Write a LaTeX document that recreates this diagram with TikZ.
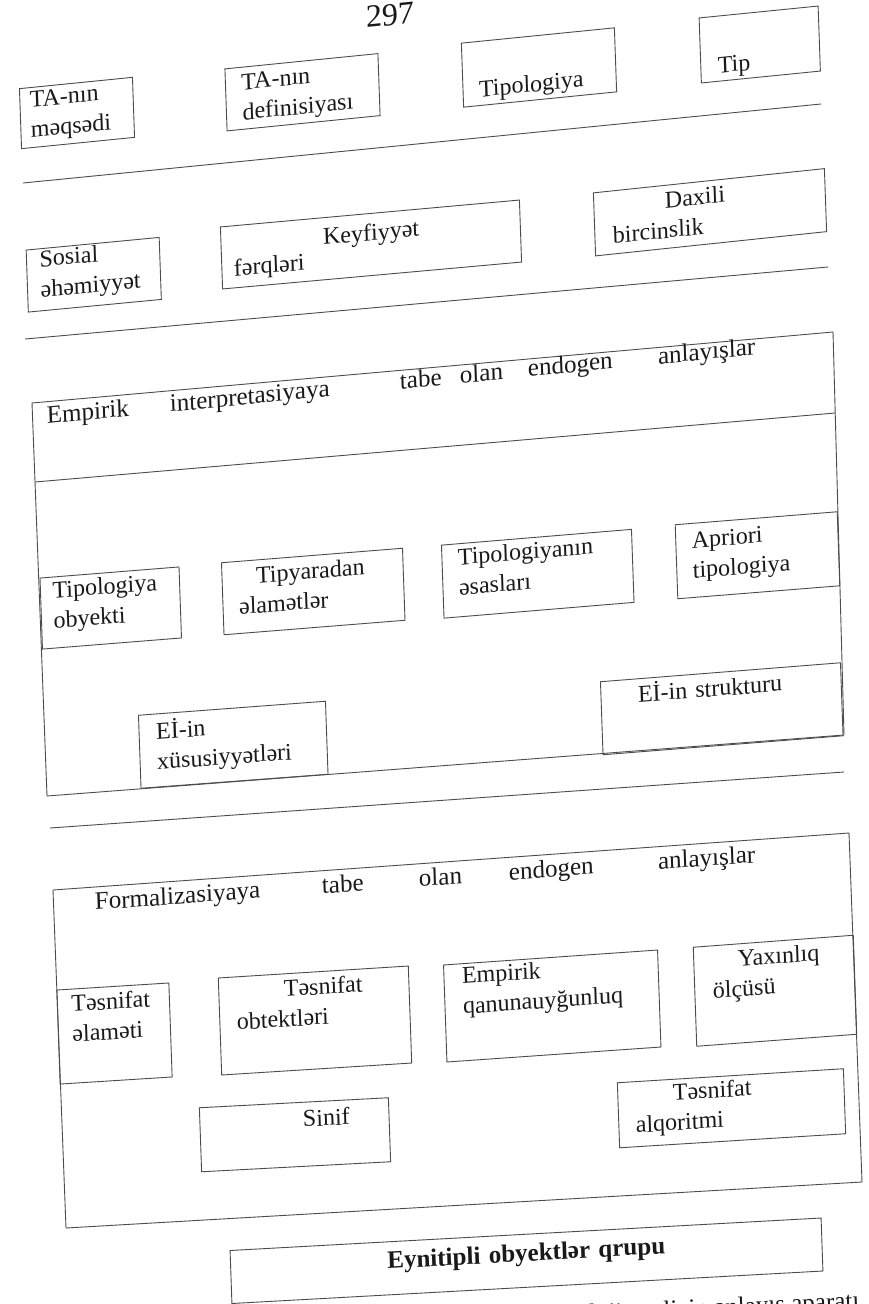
\documentclass[tikz,border=0pt]{standalone}
\usepackage{fontspec}
\setmainfont{Liberation Serif}
\newcommand{\myTop}[1]{\rule{0pt}{#1pt}}
\newcommand{\myBot}[1]{\rule[-#1pt]{0pt}{#1pt}}
\begin{document}
\begin{tikzpicture}[x=1pt,y=-1pt,
  sk/.style={cm={1,#1,-0.035,1,(0,0)}},
  bx/.style={draw=black!70, line width=0.9pt, inner sep=0pt, outer sep=0pt,
    align=left, font=\fontsize{24}{30}\selectfont, text=black!90},
  ln/.style={draw=black!70, line width=0.9pt},
  wd/.style={inner sep=0pt, anchor=base west, font=\fontsize{25}{28}\selectfont, text=black!90}]
\path[use as bounding box] (0,0) rectangle (868,1304);
\fill[white] (0,0) rectangle (868,1304);
\clip (0,0) rectangle (868,1304);

% page number
\node[inner sep=0pt, sk=0.1, font=\fontsize{32}{36}\selectfont, text=black!90] (pg) at (390,15) {297};

% row 1
\node[bx, sk=0.10, minimum width=113pt, minimum height=60pt, text width=93pt] (b1) at (77,113) {\myTop{18}TA-nın\\məqsədi\myBot{8}};
\node[bx, sk=0.10, minimum width=153pt, minimum height=62pt, text width=121pt] (b2) at (302.5,92.25) {\myTop{19.4}TA-nın\\definisiyası\myBot{6}};
\node[bx, sk=0.10, minimum width=153pt, minimum height=64pt, text width=121pt] (b3) at (539,67.5) {\myTop{53.2}Tipologiya\myBot{6}};
\node[bx, sk=0.10, minimum width=119pt, minimum height=65pt, text width=85pt] (b4) at (759.75,44.5) {\myTop{55}Tip\myBot{6}};

\coordinate (l1a) at (23,183);
\coordinate (l1b) at (821,104);
\draw[ln] (l1a) -- (l1b);

% row 2
\node[bx, sk=0.095, minimum width=133pt, minimum height=62pt, text width=107pt] (c1) at (93.75,274.75) {\myTop{18}Sosial\\əhəmiyyət\myBot{13.2}};
\node[bx, sk=0.09, minimum width=299pt, minimum height=62pt, text width=275pt, font=\fontsize{24}{22}\selectfont] (c2) at (371,244.5) {\myTop{21.4}\hspace*{90pt}Keyfiyyət\\fərqləri\myBot{6}};
\node[bx, sk=0.105, minimum width=231pt, minimum height=63pt, text width=195pt] (c3) at (710,212.25) {\myTop{18.4}\hspace*{53pt}Daxili\\bircinslik\myBot{6}};

\coordinate (l2a) at (25,339);
\coordinate (l2b) at (828,267);
\draw[ln] (l2a) -- (l2b);

% frame 1
\coordinate (f1a) at (32,403);
\coordinate (f1b) at (833,332);
\coordinate (f1c) at (844,735);
\coordinate (f1d) at (47,796);
\draw[ln] (f1a) -- (f1b) -- (f1c) -- (f1d) -- cycle;
\coordinate (d1a) at (35,482);
\coordinate (d1b) at (835,413);
\draw[ln] (d1a) -- (d1b);
\node[wd, sk=0.098] (t1) at (47,424) {\makebox[123pt][l]{Empirik}\makebox[230pt][l]{interpretasiyaya}\makebox[60pt][l]{tabe}\makebox[68pt][l]{olan}\makebox[130pt][l]{endogen}anlayışlar};

\node[bx, sk=0.08, minimum width=139pt, minimum height=71pt, text width=115pt] (m1) at (110.75,608) {\myTop{18}Tipologiya\\obyekti\myBot{16.2}};
\node[bx, sk=0.08, minimum width=181pt, minimum height=72pt, text width=149pt] (m2) at (313.25,591.5) {\myTop{18}\hspace*{18pt}Tipyaradan\\əlamətlər\myBot{13.8}};
\node[bx, sk=0.083, minimum width=190pt, minimum height=73pt, text width=158pt] (m3) at (537.75,573.75) {\myTop{18}Tipologiyanın\\əsasları\myBot{18.4}};
\node[bx, sk=0.08, minimum width=162pt, minimum height=74pt, text width=130pt] (m4) at (757.5,555.25) {\myTop{18}Apriori\\tipologiya\myBot{12.8}};
\node[bx, sk=0.075, minimum width=187pt, minimum height=73pt, text width=153pt] (m5) at (233.25,744.75) {\myTop{18}Eİ-in\\xüsusiyyətləri\myBot{11.6}};
\node[bx, sk=0.079, minimum width=240pt, minimum height=73pt, text width=166pt] (m6) at (721.75,708.75) {\myTop{18}Eİ-in strukturu\myBot{45.6}};

\coordinate (l3a) at (50,828);
\coordinate (l3b) at (844,772);
\draw[ln] (l3a) -- (l3b);

% frame 2
\coordinate (f2a) at (53,890);
\coordinate (f2b) at (849,833);
\coordinate (f2c) at (862,1182);
\coordinate (f2d) at (66,1228);
\draw[ln] (f2a) -- (f2b) -- (f2c) -- (f2d) -- cycle;
\node[wd, sk=0.072] (t2) at (95,910) {\makebox[227pt][l]{Formalizasiyaya}\makebox[97pt][l]{tabe}\makebox[90pt][l]{olan}\makebox[149pt][l]{endogen}anlayışlar};

\node[bx, sk=0.063, minimum width=112pt, minimum height=94pt, text width=84pt] (n1) at (114.5,1033.5) {\myTop{18}Təsnifat\\əlaməti\myBot{36.6}};
\node[bx, sk=0.063, minimum width=190pt, minimum height=97pt, text width=156pt] (n2) at (315,1020.5) {\myTop{18}\hspace*{48pt}Təsnifat\\obtektləri\myBot{39.2}};
\node[bx, sk=0.07, minimum width=214pt, minimum height=97pt, text width=178pt] (n3) at (552.25,1006) {\myTop{18}Empirik\\qanunauyğunluq\myBot{44.6}};
\node[bx, sk=0.075, minimum width=160pt, minimum height=99pt, text width=124pt] (n4) at (775,990.75) {\myTop{18}\hspace*{26pt}Yaxınlıq\\ölçüsü\myBot{41.8}};
\node[bx, sk=0.053, minimum width=189pt, minimum height=64pt, text width=157pt] (n5) at (295,1134.75) {\myTop{18}\hspace*{87pt}Sinif\myBot{33.2}};
\node[bx, sk=0.062, minimum width=226pt, minimum height=65pt, text width=192pt] (n6) at (731.5,1108.25) {\myTop{18}\hspace*{38pt}Təsnifat\\alqoritmi\myBot{10.8}};

% bottom box
\node[bx, sk=0.055, align=center, minimum width=591pt, minimum height=53pt, text width=560pt, font=\fontsize{25}{28}\selectfont\bfseries] (e1) at (526.5,1260.75) {\myTop{18}Eynitipli obyektlər qrupu\myBot{17}};

% caption (cut by the page edge, as in the scan)
\node[inner sep=0pt, anchor=base east, sk=0.05, font=\fontsize{25}{28}\selectfont, text=black!90] (cap) at (866,1308) {Tipoloji analizin anlayış aparatı.};
\end{tikzpicture}
\end{document}
